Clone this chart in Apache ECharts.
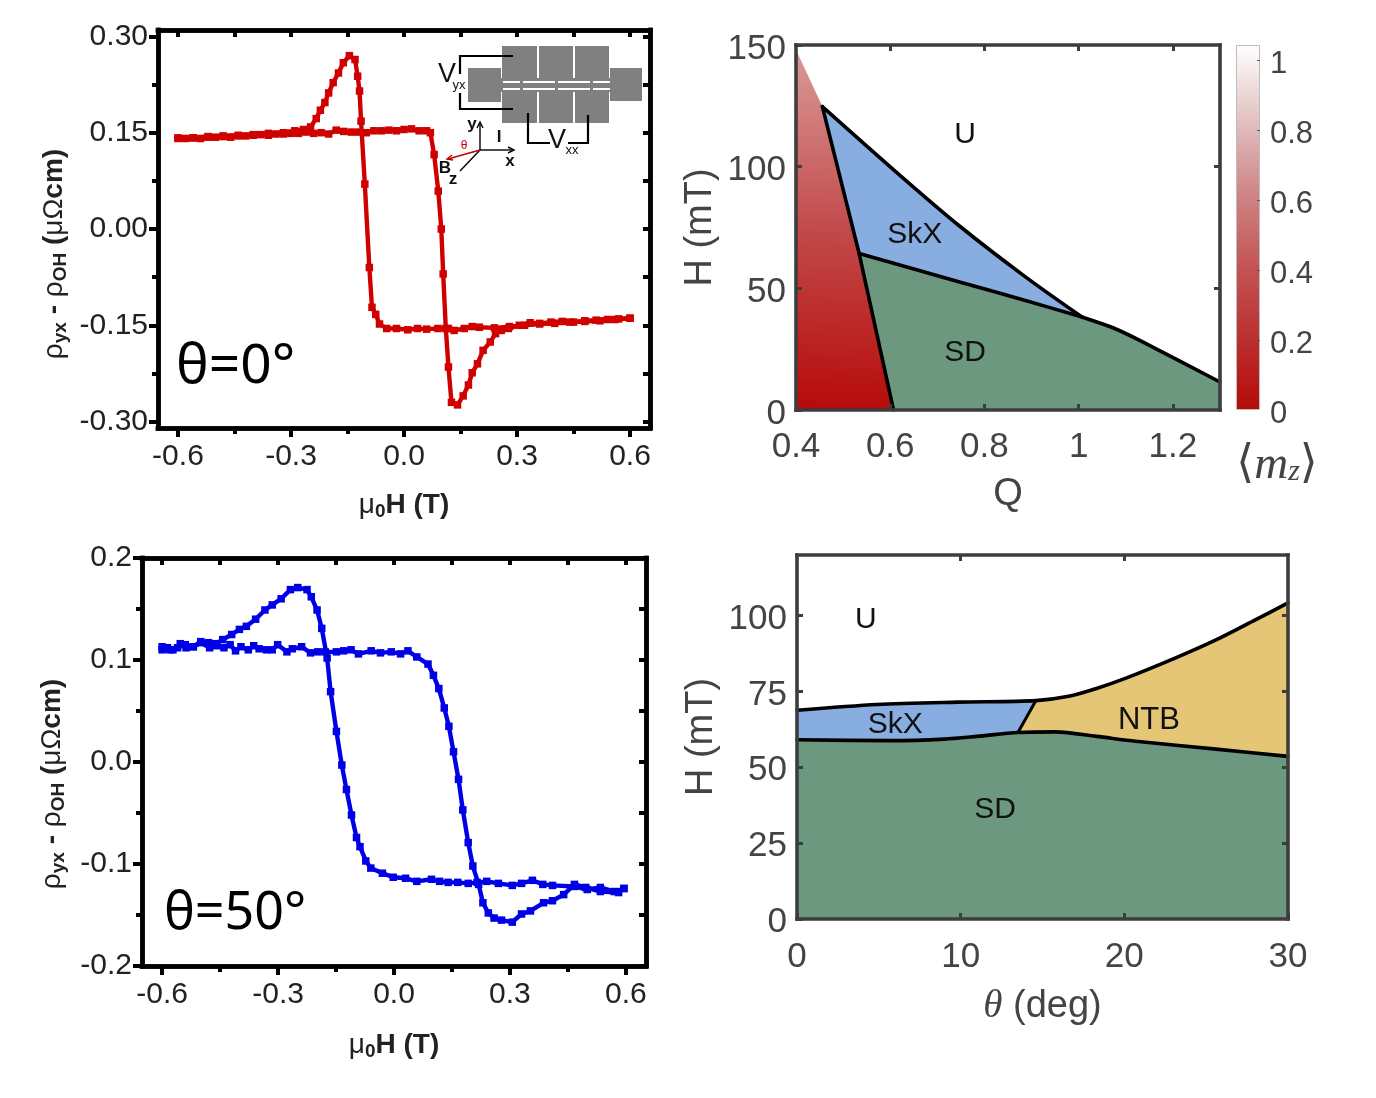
<!DOCTYPE html>
<html>
<head>
<meta charset="utf-8">
<script src="https://cdn.jsdelivr.net/npm/echarts@6/dist/echarts.min.js"></script>
<style>
  html, body { margin: 0; background: #fff; }
  #chart { width: 1376px; height: 1098px; }
</style>
</head>
<body>
<div id="chart"></div>
<script>
// ---- top left : hysteresis at theta = 0
const ticksAx = [-0.6, -0.3, 0, 0.3, 0.6];
const minorAx = [-0.45, -0.15, 0.15, 0.45];
const ticksAy = [-0.3, -0.15, 0, 0.15, 0.3];
const minorAy = [-0.225, -0.075, 0.075, 0.225];
const sweepUpA = [[-0.6,.141],[-0.58,.141],[-0.56,.142],[-0.54,.141],[-0.52,.143],[-0.5,.143],[-0.48,.144],[-0.46,.143],[-0.44,.145],[-0.42,.145],[-0.4,.146],[-0.38,.147],[-0.36,.146],[-0.34,.148],[-0.32,.148],[-0.3,.149],[-0.28,.149],[-0.26,.151],[-0.24,.149],[-0.22,.15],[-0.2,.148],[-0.18,.154],[-0.16,.152],[-0.14,.151],[-0.12,.151],[-0.1,.15],[-0.08,.153],[-0.06,.153],[-0.04,.154],[-0.02,.153],[0,.155],[0.02,.156],[0.04,.153],[0.06,.153],[0.07,.15],[0.08,.116],[0.091,.059],[0.099,0],[0.104,-.07],[0.111,-.155],[0.118,-.215],[0.126,-.27],[0.142,-.274],[0.157,-.26],[0.171,-.243],[0.181,-.224],[0.195,-.21],[0.21,-.189],[0.229,-.176],[0.243,-.163],[0.258,-.158],[0.277,-.155],[0.306,-.15],[0.335,-.146],[0.36,-.147],[0.39,-.145],[0.42,-.144],[0.45,-.145],[0.48,-.143],[0.51,-.142],[0.54,-.141],[0.57,-.14],[0.6,-.139]];
const sweepDownA = [[0.6,-.139],[0.56,-.141],[0.52,-.143],[0.48,-.144],[0.44,-.145],[0.4,-.147],[0.36,-.148],[0.32,-.15],[0.28,-.152],[0.24,-.154],[0.2,-.153],[0.181,-.152],[0.16,-.155],[0.133,-.158],[0.118,-.155],[0.09,-.155],[0.06,-.156],[0.036,-.155],[0.01,-.157],[-0.02,-.155],[-0.046,-.155],[-0.065,-.148],[-0.075,-.133],[-0.085,-.122],[-0.092,-.06],[-0.104,.07],[-0.114,.168],[-0.118,.215],[-0.123,.238],[-0.13,.264],[-0.145,.27],[-0.161,.259],[-0.174,.243],[-0.188,.228],[-0.2,.212],[-0.21,.197],[-0.222,.185],[-0.233,.172],[-0.248,.159],[-0.267,.155],[-0.29,.153],[-0.32,.15],[-0.36,.149],[-0.4,.147],[-0.44,.146],[-0.48,.145],[-0.52,.144],[-0.56,.142],[-0.6,.142]];

// ---- bottom left : hysteresis at theta = 50
const ticksCx = [-0.6, -0.3, 0, 0.3, 0.6];
const minorCx = [-0.45, -0.15, 0.15, 0.45];
const ticksCy = [-0.2, -0.1, 0, 0.1, 0.2];
const minorCy = [-0.15, -0.05, 0.05, 0.15];
const sweepUpC = [[-0.6,.113],[-0.586,.112],[-0.572,.11],[-0.553,.116],[-0.538,.112],[-0.519,.113],[-0.5,.117],[-0.477,.112],[-0.458,.114],[-0.44,.112],[-0.424,.115],[-0.41,.109],[-0.396,.113],[-0.377,.11],[-0.363,.114],[-0.349,.111],[-0.33,.11],[-0.315,.11],[-0.301,.115],[-0.277,.108],[-0.263,.111],[-0.239,.113],[-0.216,.107],[-0.197,.108],[-0.178,.108],[-0.149,.108],[-0.13,.109],[-0.111,.11],[-0.092,.106],[-0.059,.109],[-0.035,.107],[-0.007,.108],[0.017,.106],[0.036,.109],[0.059,.103],[0.088,.096],[0.102,.085],[0.116,.072],[0.13,.053],[0.142,.035],[0.154,.01],[0.167,-.017],[0.178,-.047],[0.192,-.079],[0.204,-.102],[0.219,-.12],[0.23,-.138],[0.244,-.148],[0.259,-.153],[0.278,-.155],[0.306,-.157],[0.33,-.149],[0.353,-.146],[0.387,-.138],[0.41,-.136],[0.439,-.13],[0.467,-.12],[0.496,-.123],[0.534,-.127],[0.581,-.128],[0.595,-.124]];
const sweepDownC = [[0.595,-.124],[0.57,-.127],[0.534,-.123],[0.5,-.125],[0.467,-.122],[0.41,-.121],[0.385,-.12],[0.358,-.116],[0.33,-.119],[0.306,-.121],[0.27,-.119],[0.24,-.117],[0.215,-.118],[0.192,-.119],[0.165,-.118],[0.14,-.118],[0.118,-.117],[0.097,-.115],[0.059,-.117],[0.03,-.114],[-0.002,-.113],[-0.03,-.109],[-0.06,-.104],[-0.073,-.097],[-0.088,-.083],[-0.097,-.074],[-0.11,-.052],[-0.123,-.027],[-0.135,-.003],[-0.149,.03],[-0.164,.069],[-0.173,.102],[-0.187,.131],[-0.199,.149],[-0.214,.162],[-0.225,.169],[-0.249,.171],[-0.268,.169],[-0.292,.16],[-0.315,.154],[-0.334,.149],[-0.358,.14],[-0.382,.133],[-0.4,.13],[-0.42,.125],[-0.443,.12],[-0.462,.116],[-0.48,.117],[-0.5,.118],[-0.52,.113],[-0.54,.115],[-0.56,.112],[-0.58,.11],[-0.6,.11]];

// ---- top right : phase diagram H vs Q
const ticksBx = [0.4, 0.6, 0.8, 1, 1.2];
const ticksBy = [0, 50, 100, 150];
const ticksBar = [0, 0.2, 0.4, 0.6, 0.8, 1];
const skxUpperB = [[0.456,124.7],[0.628,95.2],[0.749,75.3],[0.887,54.7],[1.007,38.2]];
const skxLowerB = [[0.534,64.3],[0.749,52.5],[0.887,45],[1.007,38.2]];
const sdUpperB = [[1.007,38.2],[1.08,33.2],[1.146,27],[1.3,11.5]];
const uLeftB = [[0.456,124.7],[0.534,64.3],[0.607,0]];
const redEdgeB = [[0.4,148],[0.456,124.7]];
const barValue = [1.043];

// ---- bottom right : phase diagram H vs theta
const ticksDx = [0, 10, 20, 30];
const ticksDy = [0, 25, 50, 75, 100];
const upperD = [[0,68.8],[4.9,70.7],[9.8,71.5],[14.6,72],[16.6,73.4],[18.3,76],[20.1,79.4],[23.1,86],[25.6,92],[28,98.6],[30,104.2]];
const lowerD = [[0,59.1],[5.7,58.8],[9,59.3],[11,60.2],[13.5,61.5],[15.8,61.7],[18.3,60.2],[20.7,58.6],[25.6,56],[30,53.6]];
const dividerD = [[13.5,61.5],[14.6,72]];

// colours
const RED = '#d00000', BLUE = '#0000e6';
const GREEN = '#6b987f', SKY = '#88ade0', SAND = '#e5c676';
const INK = '#222', GREY = '#444';

const option = { animation: false, backgroundColor: '#fff', grid: [], xAxis: [], yAxis: [], series: [], graphic: [] };

// one plot box : main axes plus mirror axes for the four sided frame
function addBox(box, x, y, style) {
    const g = option.grid.length;
    option.grid.push({ left: box[0], top: box[1], width: box[2] - box[0], height: box[3] - box[1] });
    const line = { onZero: false, lineStyle: { color: style.color, width: style.width, cap: 'square' } };
    const tick = (vals, len, inside) => ({ show: true, customValues: vals, length: len, inside, lineStyle: { color: style.color, width: style.tickWidth } });
    const base = (c, pos) => ({ type: 'value', gridIndex: g, position: pos, min: c.min, max: c.max, z: 10, silent: true, splitLine: { show: false }, axisLine: line, axisLabel: { show: false }, axisTick: { show: false } });
    const main = (c, pos) => Object.assign(base(c, pos), {
        axisTick: tick(c.ticks, style.major, style.inside),
        axisLabel: { show: true, customValues: c.ticks, formatter: c.format, fontFamily: 'Liberation Sans', fontSize: style.font, color: style.labelColor, margin: c.margin, rich: c.labelRich },
        name: c.name, nameLocation: 'middle', nameGap: c.nameGap, nameRotate: c.nameRotate, nameTextStyle: c.nameStyle
    });
    const xi = option.xAxis.length, yi = option.yAxis.length;
    option.xAxis.push(main(x, 'bottom'));
    option.yAxis.push(main(y, 'left'));
    option.xAxis.push(Object.assign(base(x, 'top'), { axisTick: tick(x.mirror || x.ticks, style.mirror, true) }));
    option.yAxis.push(Object.assign(base(y, 'right'), { axisTick: tick(y.mirror || y.ticks, style.mirror, true) }));
    if (x.minor) {
        option.xAxis.push(Object.assign(base(x, 'bottom'), { axisTick: tick(x.minor, style.minor, style.inside) }));
        option.yAxis.push(Object.assign(base(y, 'left'), { axisTick: tick(y.minor, style.minor, style.inside) }));
        option.xAxis.push(Object.assign(base(x, 'top'), { axisTick: tick(x.minor, style.mirror, true) }));
        option.yAxis.push(Object.assign(base(y, 'right'), { axisTick: tick(y.minor, style.mirror, true) }));
    }
    return { xAxisIndex: xi, yAxisIndex: yi };
}

function polygon(ax, pts, fill) {
    option.series.push(Object.assign({
        type: 'custom', data: pts, silent: true, encode: { x: 0, y: 1 }, z: 1,
        renderItem: (p, api) => p.dataIndex ? null : { type: 'polygon', shape: { points: pts.map(q => api.coord(q)) }, style: { fill } }
    }, ax));
}
function boundary(ax, pts, width, smooth) {
    option.series.push(Object.assign({ type: 'line', data: pts, symbol: 'none', silent: true, z: 3, smooth: smooth || 0, lineStyle: { color: '#000', width: width || 3.6, cap: 'round', join: 'round' } }, ax));
}
function sweep(ax, pts, color) {
    option.series.push(Object.assign({ type: 'line', data: pts, symbol: 'rect', symbolSize: 7.5, showAllSymbol: true, silent: true, z: 4, itemStyle: { color }, lineStyle: { color, width: 4.4 } }, ax));
}
function note(ax, at, text, label) {
    option.series.push(Object.assign({ type: 'scatter', data: [at], symbolSize: 0, silent: true, z: 6, itemStyle: { opacity: 1 }, label: Object.assign({ show: true, position: 'inside', formatter: text, color: '#111', fontFamily: 'Liberation Sans', fontSize: 30 }, label) }, ax));
}

const sub = { fontFamily: 'Liberation Sans', fontWeight: 'bold', color: INK };
const rhoName = '{r|ρ}{s|yx}{b| - }{r|ρ}{s|OH}{b| (}{r|μΩ}{b|cm)}';
const rhoStyle = (shift) => ({ padding: [0, shift, 0, 0], rich: {
    r: Object.assign({}, sub, { fontSize: 28, fontWeight: 'normal' }),
    b: Object.assign({}, sub, { fontSize: 28 }),
    s: Object.assign({}, sub, { fontSize: 19, padding: [12, 0, 0, 0] })
} });
const fieldName = '{r|μ}{s|0}{b|H (T)}';
const hystStyle = { font: 30, color: '#000', labelColor: INK, width: 4.5, tickWidth: 4, major: 9, minor: 6, mirror: 7, inside: false };
const phaseStyle = { font: 35, color: '#3d3d3d', labelColor: GREY, width: 3.6, tickWidth: 3, major: 6, minor: 0, mirror: 6, inside: true };
const phaseName = { fontFamily: 'Liberation Sans', fontSize: 38, color: GREY };
// phase diagram y labels sit a little under their ticks
const lowLabel = v => `{v|${v}}`;
const lowRich = (size, drop) => ({ v: { fontFamily: 'Liberation Sans', fontSize: size, color: GREY, padding: [drop, 0, 0, 0] } });

// panel A
const axA = addBox([158, 30, 650, 428],
    { min: -0.653, max: 0.653, ticks: ticksAx, minor: minorAx, format: v => v.toFixed(1), margin: 14, name: fieldName, nameGap: 62, nameStyle: rhoStyle(0) },
    { min: -0.31, max: 0.31, ticks: ticksAy, minor: minorAy, format: v => v.toFixed(2), margin: 10, name: rhoName, nameGap: 88, nameRotate: 90, nameStyle: rhoStyle(50) },
    hystStyle);
sweep(axA, sweepUpA, RED);
sweep(axA, sweepDownA, RED);
note(axA, [-0.447, -0.216], 'θ=0°', { fontFamily: 'Noto Sans', fontSize: 55, color: '#000' });

// panel C
const axC = addBox([142, 558, 646, 966],
    { min: -0.652, max: 0.652, ticks: ticksCx, minor: minorCx, format: v => v.toFixed(1), margin: 14, name: fieldName, nameGap: 64, nameStyle: rhoStyle(0) },
    { min: -0.2, max: 0.2, ticks: ticksCy, minor: minorCy, format: v => v.toFixed(1), margin: 10, name: rhoName, nameGap: 74, nameRotate: 90, nameStyle: rhoStyle(44) },
    hystStyle);
sweep(axC, sweepUpC, BLUE);
sweep(axC, sweepDownC, BLUE);
note(axC, [-0.411, -0.149], 'θ=50°', { fontFamily: 'Noto Sans', fontSize: 52, color: '#000' });

// panel B
const axB = addBox([796, 45, 1220, 410],
    { min: 0.4, max: 1.3, ticks: ticksBx, mirror: [0.6, 0.8, 1, 1.2], format: v => String(v), margin: 20, name: 'Q', nameGap: 66, nameStyle: phaseName },
    { min: 0, max: 150, ticks: ticksBy, mirror: [50, 100], format: lowLabel, labelRich: lowRich(35, 8), margin: 10, name: 'H (mT)', nameGap: 76, nameRotate: 90, nameStyle: phaseName },
    phaseStyle);
const redFill = new echarts.graphic.LinearGradient(0, 1, 0.12, 0, [{ offset: 0, color: '#b70a0a' }, { offset: 0.5, color: '#c24a4a' }, { offset: 1, color: '#da9a98' }]);
polygon(axB, [[0.4, 0], ...uLeftB.slice().reverse(), ...redEdgeB.slice().reverse()], redFill);
polygon(axB, [...skxUpperB, ...skxLowerB.slice().reverse()], SKY);
polygon(axB, [...skxLowerB, ...sdUpperB.slice(1), [1.3, 0], [0.607, 0]], GREEN);
boundary(axB, skxUpperB, 3.6, 0.3);
boundary(axB, skxLowerB, 3.6, 0.3);
boundary(axB, sdUpperB, 3.6, 0.3);
boundary(axB, uLeftB);
note(axB, [0.759, 113], 'U');
note(axB, [0.652, 72], 'SkX');
note(axB, [0.759, 23.5], 'SD');

// colour bar of panel B
const gBar = option.grid.length;
option.grid.push({ left: 1236, top: 45, width: 24, height: 365 });
const xBar = option.xAxis.length, yBar = option.yAxis.length;
option.xAxis.push({ type: 'category', gridIndex: gBar, data: [''], axisTick: { show: false }, axisLine: { show: false }, axisLabel: { show: false },
    name: '{a|⟨}{m|m}{z|z}{a|⟩}', nameLocation: 'middle', nameGap: 32, nameTextStyle: { padding: [0, 0, 0, 58], rich: {
        a: { fontFamily: 'DejaVu Serif', fontSize: 46, color: GREY },
        m: { fontFamily: 'Liberation Serif', fontStyle: 'italic', fontSize: 47, color: GREY },
        z: { fontFamily: 'Liberation Serif', fontStyle: 'italic', fontSize: 30, color: GREY, padding: [14, 0, 0, 0] }
    } } });
option.yAxis.push({ type: 'value', gridIndex: gBar, position: 'right', min: 0, max: 1.043, z: 10, splitLine: { show: false },
    axisLine: { show: false }, axisTick: { show: true, customValues: ticksBar.slice(1), inside: true, length: 3, lineStyle: { color: '#555', width: 1 } },
    axisLabel: { customValues: ticksBar, formatter: lowLabel, rich: lowRich(31, 8), margin: 10 } });
option.series.push({ type: 'bar', xAxisIndex: xBar, yAxisIndex: yBar, data: barValue, barWidth: '100%', silent: true,
    itemStyle: { borderColor: '#bdbdbd', borderWidth: 1, color: new echarts.graphic.LinearGradient(0, 1, 0, 0, [
        { offset: 0, color: '#b70a0a' }, { offset: 0.2, color: '#bb3030' }, { offset: 0.4, color: '#c45656' },
        { offset: 0.6, color: '#cf8787' }, { offset: 0.8, color: '#e3c3c3' }, { offset: 1, color: '#ffffff' }]) } });

// panel D
const thetaName = { rich: {
    t: { fontFamily: 'Liberation Serif', fontStyle: 'italic', fontSize: 39, color: GREY },
    n: { fontFamily: 'Liberation Sans', fontSize: 38, color: GREY }
} };
const axD = addBox([797, 555, 1288, 919],
    { min: 0, max: 30, ticks: ticksDx, mirror: [10, 20], format: v => String(v), margin: 21, name: '{t|θ}{n| (deg)}', nameGap: 68, nameStyle: thetaName },
    { min: 0, max: 120, ticks: ticksDy, mirror: [25, 50, 75, 100], format: lowLabel, labelRich: lowRich(35, 7), margin: 10, name: 'H (mT)', nameGap: 76, nameRotate: 90, nameStyle: phaseName },
    phaseStyle);
polygon(axD, [...lowerD, [30, 0], [0, 0]], GREEN);
polygon(axD, [...upperD.slice(0, 4), ...lowerD.slice(0, 5).reverse()], SKY);
polygon(axD, [...upperD.slice(3), ...lowerD.slice(4).reverse()], SAND);
boundary(axD, upperD, 3.6, 0.3);
boundary(axD, lowerD, 3.6, 0.3);
boundary(axD, dividerD, 3);
note(axD, [4.2, 98.5], 'U');
note(axD, [6, 64], 'SkX');
note(axD, [21.5, 65.5], 'NTB', { fontSize: 31 });
note(axD, [12.1, 36], 'SD');

// device sketch in panel A, this one is a drawing and not data
const gray = '#808080';
const rects = [[502,46,35,34],[539,46,34,34],[575,46,34,34],[502,90,35,33],[539,90,34,33],[575,90,34,33],[468,68,33,34],[610,68,32,33],[500,78,112,14]];
rects.forEach(r => option.graphic.push({ type: 'rect', z: 20, shape: { x: r[0], y: r[1], width: r[2], height: r[3] }, style: { fill: gray } }));
[82, 89].forEach(y => option.graphic.push({ type: 'line', z: 21, shape: { x1: 503, y1: y, x2: 610, y2: y }, style: { stroke: '#fff', lineWidth: 1.8, lineDash: [32, 3], lineDashOffset: 15 } }));
const wire = (pts, stroke, w) => option.graphic.push({ type: 'polyline', z: 22, shape: { points: pts }, style: { stroke: stroke || '#000', lineWidth: w || 2.2, fill: null } });
wire([[513,56],[460,56],[460,74]]);
wire([[460,93],[460,109],[513,109]]);
wire([[528,113],[528,143],[550,143]]);
wire([[588,115],[588,143],[568,143]]);
wire([[480,150],[480,124]], '#000', 1.4);
wire([[477,128],[480,122],[483,128]], '#000', 1.4);
wire([[480,150],[512,150]], '#000', 1.4);
wire([[508,147],[514,150],[508,153]], '#000', 1.4);
wire([[480,150],[460,171]], '#000', 1.4);
wire([[480,150],[448,159]], '#c00000', 1.4);
wire([[452,155],[447,159],[453,160]], '#c00000', 1.4);
const txt = (x, y, text, size, extra) => option.graphic.push({ type: 'text', z: 23, x, y, style: Object.assign({ text, fontFamily: 'Liberation Sans', fontSize: size, fill: '#111', textAlign: 'center', textVerticalAlign: 'middle' }, extra) });
txt(447, 75, 'V', 27);
txt(459, 85, 'yx', 13);
txt(557, 141, 'V', 27);
txt(572, 150, 'xx', 13);
txt(472, 124, 'y', 17, { fontWeight: 'bold' });
txt(499, 137, 'I', 17, { fontWeight: 'bold' });
txt(510, 161, 'x', 17, { fontWeight: 'bold' });
txt(445, 168, 'B', 17, { fontWeight: 'bold' });
txt(453, 179, 'z', 17, { fontWeight: 'bold' });
txt(464, 146, 'θ', 12, { fill: '#c00000' });

const chart = echarts.init(document.getElementById('chart'), null, { renderer: 'canvas' });
chart.setOption(option);
</script>
</body>
</html>
